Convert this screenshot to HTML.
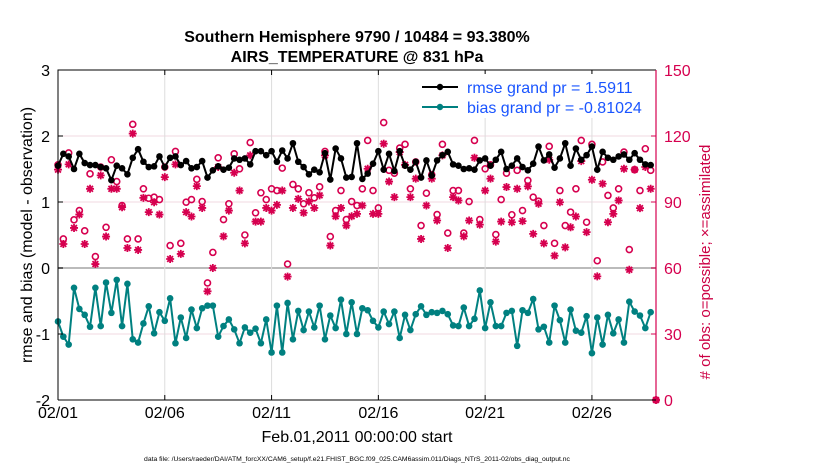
<!DOCTYPE html>
<html><head><meta charset="utf-8">
<style>
body{margin:0;background:#fff;}
svg{display:block;font-family:"Liberation Sans",sans-serif;}
</style></head>
<body>
<svg id="chart" width="830" height="470" viewBox="0 0 830 470">
<rect width="830" height="470" fill="#fff"/>
<text x="357" y="42" text-anchor="middle" font-size="16" font-weight="bold">Southern Hemisphere 9790 / 10484 = 93.380%</text>
<text x="357" y="62" text-anchor="middle" font-size="16" font-weight="bold">AIRS_TEMPERATURE @ 831 hPa</text>
<g id="grid"></g>
<g id="marks"></g>
<g id="axes"></g>
<text transform="translate(32,235) rotate(-90)" text-anchor="middle" font-size="16">rmse and bias (model - observation)</text>
<text transform="translate(710,262) rotate(-90)" text-anchor="middle" font-size="15" fill="#cc0044"># of obs: o=possible; ×=assimilated</text>
<text x="357" y="442" text-anchor="middle" font-size="16">Feb.01,2011 00:00:00 start</text>
<text x="357" y="461" text-anchor="middle" font-size="6.8">data file: /Users/raeder/DAI/ATM_forcXX/CAM6_setup/f.e21.FHIST_BGC.f09_025.CAM6assim.011/Diags_NTrS_2011-02/obs_diag_output.nc</text>
<g>
<rect x="414" y="74" width="238" height="44" fill="#fff"/>
<line x1="422" y1="87" x2="458" y2="87" stroke="#000" stroke-width="2"/>
<circle cx="440" cy="87" r="3.2" fill="#000"/>
<text x="467" y="93" font-size="16" fill="#1a55ff">rmse grand pr = 1.5911</text>
<line x1="422" y1="107" x2="458" y2="107" stroke="#008080" stroke-width="2"/>
<circle cx="440" cy="107" r="3.2" fill="#008080"/>
<text x="467" y="113" font-size="16" fill="#1a55ff">bias grand pr = -0.81024</text>
</g>
</svg>
<script>
const dateTicks=["02/01","02/06","02/11","02/16","02/21","02/26"];
const dateTickDays=[0,5,10,15,20,25];
const leftTicks=[3,2,1,0,-1,-2];
const rightTicks=[0,30,60,90,120,150];
const rmse=[1.55,1.73,1.69,1.50,1.73,1.59,1.56,1.56,1.53,1.51,1.33,1.55,1.51,1.42,1.67,1.80,1.61,1.53,1.54,1.69,1.53,1.67,1.69,1.56,1.62,1.51,1.53,1.62,1.37,
1.48,1.54,1.49,1.52,1.66,1.64,1.66,1.57,1.77,1.77,1.71,1.77,1.61,1.78,1.66,1.89,1.61,1.53,1.42,1.49,1.45,1.74,1.34,1.81,1.66,1.37,1.38,1.89,
1.35,1.43,1.58,1.77,1.49,1.73,1.47,1.77,1.55,1.49,1.61,1.37,1.63,1.40,1.63,1.71,1.76,1.57,1.55,1.50,1.51,1.49,1.63,1.66,1.55,1.64,1.76,1.50,
1.55,1.66,1.53,1.48,1.58,1.84,1.63,1.72,1.52,1.66,1.89,1.55,1.81,1.64,1.71,1.84,1.49,1.76,1.67,1.64,1.69,1.72,1.64,1.74,1.64,1.57,1.56];
const bias=[-0.81,-1.04,-1.16,-0.30,-0.62,-0.71,-0.89,-0.30,-0.88,-0.22,-0.68,-0.18,-0.88,-0.24,-1.08,-1.13,-0.84,-0.58,-0.99,-0.67,-0.80,-0.46,-1.14,-0.75,-1.06,-0.63,-0.91,-0.61,-0.57,
-0.57,-1.04,-0.88,-0.78,-0.93,-1.14,-0.90,-0.98,-0.92,-1.14,-0.78,-1.28,-0.57,-1.28,-0.53,-1.08,-0.65,-0.94,-0.66,-0.90,-0.57,-1.08,-0.72,-0.91,-0.48,-1.00,-0.52,-1.00,
-0.61,-0.64,-0.80,-0.90,-0.66,-0.85,-0.66,-1.06,-0.71,-0.94,-0.70,-0.58,-0.71,-0.67,-0.68,-0.65,-0.70,-0.87,-0.88,-0.60,-0.88,-0.77,-0.34,-0.91,-0.52,-0.88,-0.88,-0.68,
-0.65,-1.18,-0.64,-0.68,-0.47,-0.93,-0.89,-1.13,-0.57,-0.79,-1.13,-0.63,-0.95,-0.98,-0.73,-1.29,-0.75,-1.16,-0.71,-0.99,-0.78,-1.13,-0.51,-0.66,-0.72,-0.91,-0.67];
const possible=[106.9,73.2,112.3,81.9,86.1,76.9,102.8,65.2,105.9,78.5,109.2,99.3,88.4,73.2,125.3,73.2,96.0,91.7,92.2,91.1,105.9,70.2,113.0,71.2,89.9,91.1,100.3,90.2,53.2,
67.1,110.1,82.0,89.2,111.9,105.1,75.0,117.0,85.1,94.2,91.1,96.0,95.2,105.4,61.8,98.0,96.0,89.2,94.2,91.9,96.9,113.0,74.3,86.1,95.2,82.0,90.2,88.4,
96.0,118.0,95.2,87.3,126.1,104.4,103.1,114.5,116.2,96.0,108.2,79.3,94.0,102.4,84.3,116.2,75.9,95.2,95.2,75.9,90.2,118.0,82.0,105.1,106.9,75.2,91.1,103.1,
84.2,104.4,86.1,99.8,92.2,90.4,79.3,115.3,71.2,95.2,79.3,85.4,96.0,118.0,80.8,116.2,63.3,108.2,93.0,87.3,96.0,112.7,68.4,104.7,95.2,114.2,104.4,0];
const assimilated=[104.7,70.9,107.1,78.2,84.3,70.9,96.0,61.8,102.1,74.3,96.0,96.0,87.6,69.1,121.1,68.2,91.9,85.4,89.9,84.3,101.3,64.1,107.1,66.4,85.4,83.4,97.2,87.3,49.4,
60.0,105.9,74.4,86.1,103.3,95.2,71.2,111.2,81.1,81.1,87.3,86.1,88.7,95.2,56.1,87.3,91.4,85.1,90.2,87.3,93.0,111.2,70.2,83.5,87.3,79.3,83.5,84.6,
88.4,105.1,84.6,84.6,116.5,99.3,92.2,112.7,106.9,92.2,100.6,73.2,88.4,100.6,81.6,111.2,69.1,92.2,90.7,74.4,81.6,110.1,79.7,95.2,100.6,72.0,81.1,96.8,
80.8,96.0,81.3,97.1,75.5,89.2,71.2,109.2,65.6,89.9,69.4,78.5,83.4,108.6,76.3,100.1,56.2,98.3,80.8,84.6,90.7,105.1,59.2,104.7,87.2,105.9,96.0,0];

const NS="http://www.w3.org/2000/svg";
const L=58,R=656,T=70,B=400,DAYS=28,STEP=0.25;
const x=d=>L+(d/DAYS)*(R-L);
const yL=v=>T+(3-v)/5*(B-T);
const yR=c=>B-c/150*(B-T);
const MAG="#d6004f",TEAL="#008080";
function mk(tag,attrs,parent){const e=document.createElementNS(NS,tag);for(const k in attrs)e.setAttribute(k,attrs[k]);parent.appendChild(e);return e;}
const grid=document.getElementById('grid'),marks=document.getElementById('marks'),axes=document.getElementById('axes');
leftTicks.forEach(v=>{
  const g=mk('line',{x1:L,x2:R,y1:yL(v),y2:yL(v),stroke:v===0?'#bbbbbb':'#f0d8e0','stroke-width':v===0?2:1},grid);
  
  
  const t=mk('text',{x:L-8,y:yL(v)+6,'text-anchor':'end','font-size':16},axes);
  t.textContent=v;
  
  
  mk('line',{x1:L,x2:L+5,y1:yL(v),y2:yL(v),stroke:'#000'},axes);
});
rightTicks.forEach(c=>{
  const t=mk('text',{x:R+8,y:yR(c)+6,'font-size':16,fill:MAG},axes);
  t.textContent=c;
  
  
  mk('line',{x1:R-5,x2:R,y1:yR(c),y2:yR(c),stroke:MAG},axes);
});
dateTickDays.forEach((d,i)=>{
  const g=mk('line',{x1:x(d),x2:x(d),y1:T,y2:B,stroke:'#dddddd'},grid);
  
  
  mk('line',{x1:x(d),x2:x(d),y1:B,y2:B-5,stroke:'#000'},axes);
  mk('line',{x1:x(d),x2:x(d),y1:T,y2:T+5,stroke:'#000'},axes);
  const t=mk('text',{x:x(d),y:B+18,'text-anchor':'middle','font-size':16},axes);
  t.textContent=dateTicks[i];
  
  
});
const box=mk('path',{d:`M${L},${B}V${T}H${R}`,fill:'none',stroke:'#000','stroke-width':1},axes);


const ra=mk('line',{x1:R,x2:R,y1:T,y2:B,stroke:MAG,'stroke-width':1.2},axes);


const ba=mk('line',{x1:L,x2:R,y1:B,y2:B,stroke:'#000'},axes);



possible.forEach((c,i)=>{
  const d=i<rmse.length?i*STEP:DAYS;
  const o=mk('circle',{cx:x(d),cy:yR(c),r:3,fill:'none',stroke:MAG,'stroke-width':1.6},marks);
  
  
});
assimilated.forEach((c,i)=>{
  const d=i<rmse.length?i*STEP:DAYS;
  const cx=x(d),cy=yR(c),s=4;
  const g=mk('path',{d:`M${cx-s},${cy}H${cx+s}M${cx},${cy-s}V${cy+s}M${cx-2.9},${cy-2.9}L${cx+2.9},${cy+2.9}M${cx-2.9},${cy+2.9}L${cx+2.9},${cy-2.9}`,stroke:MAG,'stroke-width':1.8,fill:'none'},marks);
  
  
});
function series(vals,color,name){
  const p=mk('polyline',{points:vals.map((v,i)=>x(i*STEP)+','+yL(v)).join(' '),fill:'none',stroke:color,'stroke-width':2},marks);
  
  
  vals.forEach((v,i)=>{
    const c=mk('circle',{cx:x(i*STEP),cy:yL(v),r:3.3,fill:color},marks);
    
    
  });
}
series(rmse,'#000','rmse');
series(bias,TEAL,'bias');
</script>
</body></html>
